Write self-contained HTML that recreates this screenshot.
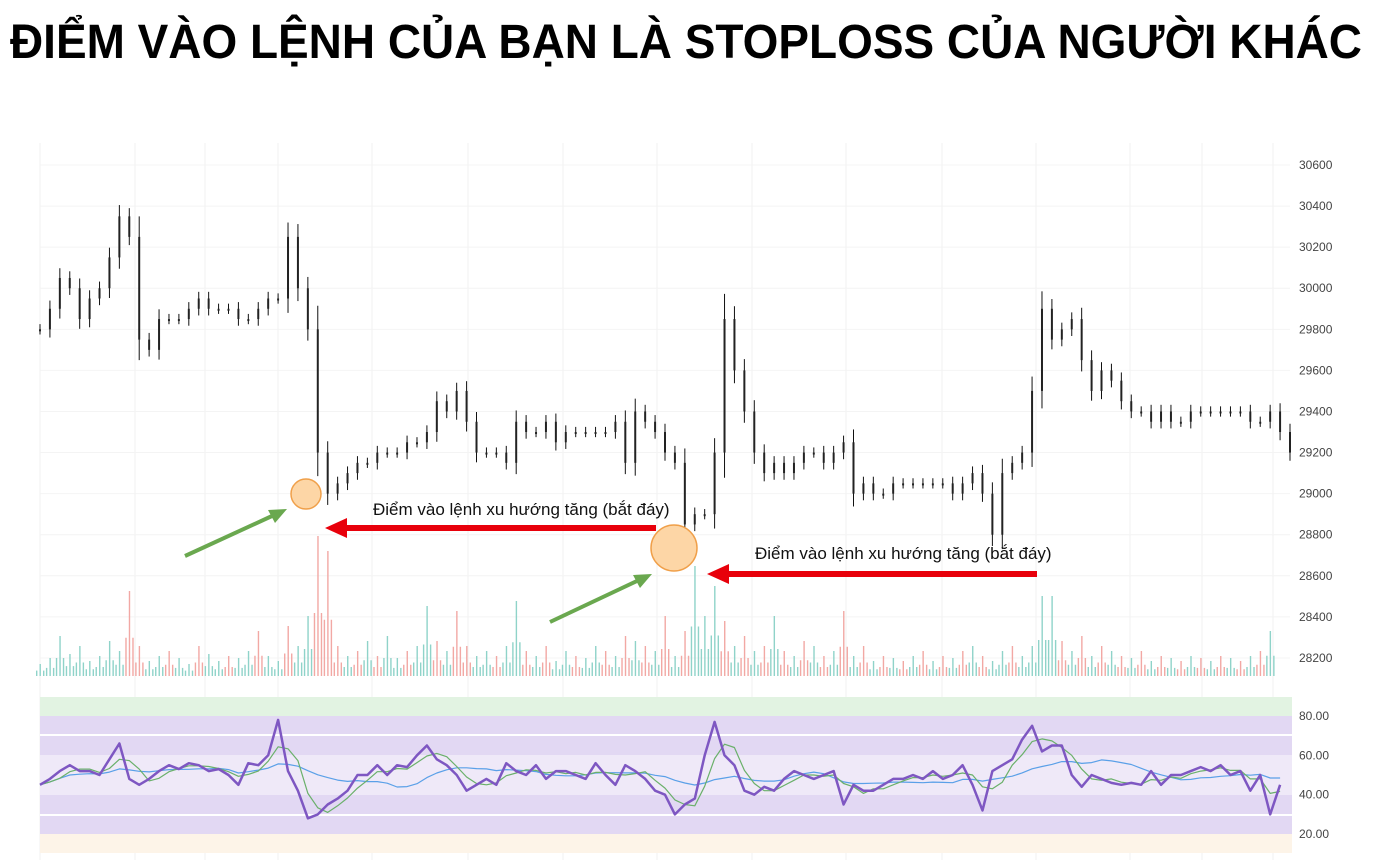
<!DOCTYPE html>
<html><head><meta charset="utf-8"><style>
body{margin:0;background:#fff;width:1393px;height:860px;overflow:hidden}
svg{display:block;font-family:"Liberation Sans","DejaVu Sans",sans-serif}
</style></head><body>
<svg id="c" width="1393" height="860">
<text x="10" y="58" font-size="48" font-weight="bold" textLength="1352" lengthAdjust="spacingAndGlyphs" fill="#000">ĐIỂM VÀO LỆNH CỦA BẠN LÀ STOPLOSS CỦA NGƯỜI KHÁC</text>
<g id="grid"></g>
<g id="rsiBands"></g>
<g id="vol"></g>
<g id="candles"></g>
<g id="rsi"></g>
<g id="axes"></g>
<g>
<circle cx="306" cy="494" r="15" fill="#fdd6a6" stroke="#f0a04a" stroke-width="1.5"/>
<circle cx="674" cy="548" r="23" fill="#fdd6a6" stroke="#f0a04a" stroke-width="1.5"/>
<line x1="185" y1="556" x2="272" y2="516" stroke="#6aa84f" stroke-width="4"/>
<polygon points="287,509 268,510 275,523" fill="#6aa84f"/>
<line x1="550" y1="622" x2="637" y2="581" stroke="#6aa84f" stroke-width="4"/>
<polygon points="652,574 633,575 640,588" fill="#6aa84f"/>
<line x1="656" y1="528" x2="345" y2="528" stroke="#e8000b" stroke-width="6"/>
<polygon points="325,528 347,518 347,538" fill="#e8000b"/>
<line x1="1037" y1="574" x2="727" y2="574" stroke="#e8000b" stroke-width="6"/>
<polygon points="707,574 729,564 729,584" fill="#e8000b"/>
<text x="373" y="515" font-size="17" fill="#111">Điểm vào lệnh xu hướng tăng (bắt đáy)</text>
<text x="755" y="559" font-size="17" fill="#111">Điểm vào lệnh xu hướng tăng (bắt đáy)</text>
</g>
</svg>
<script>
const priceTicks=[30600,30400,30200,30000,29800,29600,29400,29200,29000,28800,28600,28400,28200];
const rsiTicks=[80,60,40,20];
const closes=[29800,29900,30050,30000,29850,29950,30000,30150,30350,30250,29750,29700,29850,29850,29850,29900,29950,29900,29900,29900,29850,29850,29900,29950,29950,30250,30000,29800,29200,29000,29050,29100,29150,29150,29200,29200,29200,29250,29250,29300,29450,29400,29500,29350,29200,29200,29200,29150,29350,29300,29300,29350,29250,29300,29300,29300,29300,29300,29350,29150,29400,29350,29300,29200,29150,28850,28900,28900,29200,29850,29600,29400,29200,29100,29150,29100,29150,29200,29200,29150,29200,29250,29000,29050,29000,29000,29050,29050,29050,29050,29050,29050,29000,29050,29100,29000,28800,29100,29150,29200,29500,29900,29750,29800,29850,29650,29500,29600,29550,29450,29400,29400,29350,29400,29350,29350,29400,29400,29400,29400,29400,29400,29350,29350,29400,29300,29200];
const volumes=[12,18,40,22,30,15,20,35,25,-85,-30,15,20,-25,18,12,-30,22,15,-20,18,25,-45,20,15,-50,30,60,-140,-125,-30,20,-25,35,-20,40,18,-25,30,70,-35,25,-65,-30,20,25,-20,30,75,-25,20,-30,15,25,-20,18,30,-25,20,-40,35,-30,25,-60,20,-45,110,60,90,-55,30,-40,25,-30,60,-25,20,-35,30,-20,25,-65,20,-30,15,-20,18,-15,20,-25,15,-20,18,-25,30,-20,15,25,-30,20,30,80,80,-35,25,-40,20,-30,25,-20,18,-25,15,-20,18,-15,20,-18,15,-20,18,-15,20,-25,45];
const rsiVals=[45,48,52,55,52,52,50,58,66,48,45,48,52,55,53,56,55,52,53,50,45,56,55,60,78,52,42,28,30,35,38,42,50,50,55,50,55,54,60,65,58,55,50,42,45,48,45,56,52,50,55,48,52,52,50,48,56,50,45,55,52,48,42,40,30,35,38,60,77,60,55,42,40,44,42,48,52,50,48,50,52,35,45,42,42,45,48,48,50,48,52,48,50,55,45,32,52,55,58,68,75,62,65,65,50,44,50,48,46,45,46,45,52,45,50,50,52,54,52,55,50,52,42,50,30,45];
const NS='http://www.w3.org/2000/svg';
const X0=40,X1=1290;
const px=i=>X0+i*(X1-X0)/(closes.length-1);
const py=p=>165+(30600-p)*0.2054;
const ry=v=>716+(80-v)*1.967;
function mk(tag,attrs,parent){const e=document.createElementNS(NS,tag);for(const k in attrs)e.setAttribute(k,attrs[k]);parent.appendChild(e);return e;}
const grid=document.getElementById('grid');
[40,135,205,278,372,468,563,657,752,846,942,1036,1130,1202,1273].forEach(x=>{
 const l=mk('line',{x1:x,y1:143,x2:x,y2:860,stroke:'#f0f0f0','stroke-width':1},grid);
 
 
});
priceTicks.forEach(p=>{
 const l=mk('line',{x1:40,y1:py(p),x2:1290,y2:py(p),stroke:'#f4f4f4'},grid);
 
 
});
const bands=document.getElementById('rsiBands');
[[697,716,'#e2f3e2'],[716,755,'#e2d8f3'],[755,795,'#efe9f8'],[795,834,'#e2d8f3'],[834,853,'#fdf4e8']].forEach(b=>{
 const r=mk('rect',{x:40,y:b[0],width:1252,height:b[1]-b[0],fill:b[2]},bands);
 
 
});
[735,815].forEach(y=>{const l=mk('line',{x1:40,y1:y,x2:1292,y2:y,stroke:'#fff','stroke-width':2},bands);
 
 });
const vol=document.getElementById('vol');
volumes.forEach((v,i)=>{
 for(let k=0;k<3;k++){
  const h=Math.abs(v)*(k==1?1:0.45);
  const r=mk('rect',{x:px(i)-4+k*3.5,y:676-h,width:1.4,height:h,fill:v>0?'#8fd3c9':'#f2a8a4'},vol);
  
  
 }
});
const cg=document.getElementById('candles');
closes.forEach((c,i)=>{
 const o=i?closes[i-1]:c;
 const d=Math.abs(c-o);
 const hi=Math.max(o,c)+25+d*0.15,lo=Math.min(o,c)-25-d*0.15;
 const w=mk('line',{x1:px(i),y1:py(hi),x2:px(i),y2:py(lo),stroke:'#111','stroke-width':1},cg);
 
 
 const b=mk('rect',{x:px(i)-1,y:py(Math.max(o,c)),width:2,height:Math.max(2,Math.abs(py(o)-py(c))),fill:'#222'},cg);
 
 
});
const rg=document.getElementById('rsi');
function ma(arr,n){return arr.map((_,i)=>{const s=arr.slice(Math.max(0,i-n+1),i+1);return s.reduce((a,b)=>a+b,0)/s.length;});}
function path(arr,col,w,name){
 const d=arr.map((v,i)=>(i?'L':'M')+px(i).toFixed(1)+','+ry(v).toFixed(1)).join('');
 const p=mk('path',{d:d,fill:'none',stroke:col,'stroke-width':w,'stroke-linejoin':'round'},rg);
 
 
}
path(ma(rsiVals,12),'#5aa0e8',1.2,'rsi-slow-ma');
path(ma(rsiVals,3),'#6ab06a',1.2,'rsi-fast-ma');
path(rsiVals,'#7e57c2',2.5,'rsi-line');
const ax=document.getElementById('axes');
priceTicks.forEach(p=>{
 const t=mk('text',{x:1299,y:py(p)+4,'font-size':12,fill:'#444'},ax);t.textContent=p;
 
 
});
rsiTicks.forEach(v=>{
 const t=mk('text',{x:1299,y:ry(v)+4,'font-size':12,fill:'#444'},ax);t.textContent=v.toFixed(2);
 
 
});
</script>
</body></html>
